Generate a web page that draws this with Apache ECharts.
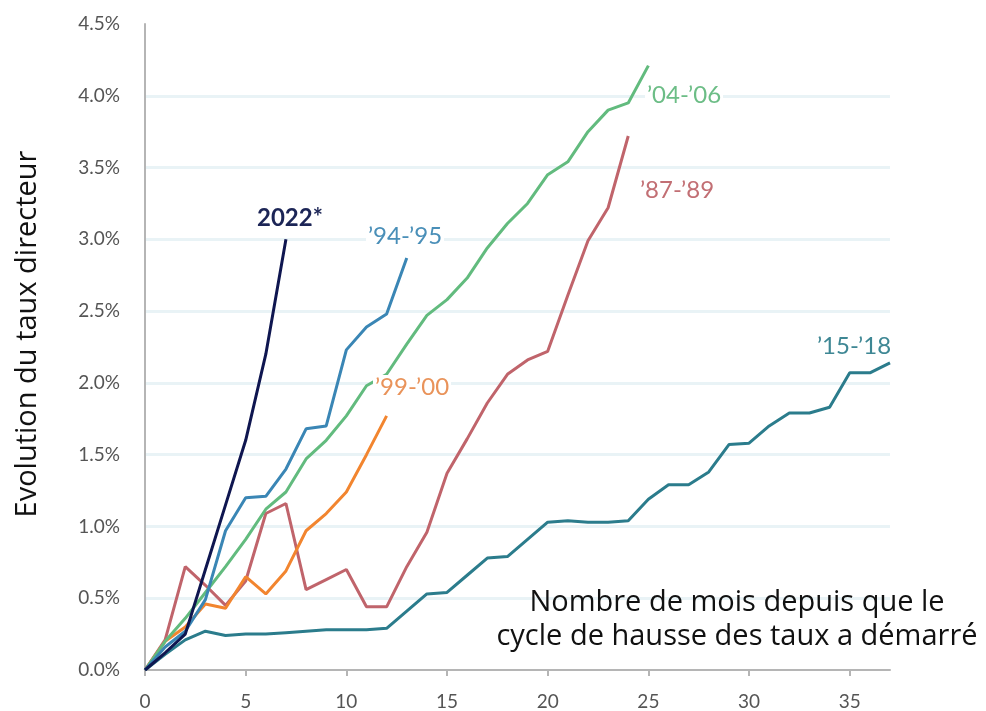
<!DOCTYPE html>
<html>
<head>
<meta charset="utf-8">
<style>
  html, body { margin: 0; padding: 0; background: #fff; overflow: hidden; }
  #chart { width: 986px; height: 730px; }
</style>
<script src="https://cdn.jsdelivr.net/npm/echarts@6/dist/echarts.min.js"></script>
</head>
<body>
<div id="chart"></div>
<script>
// mois depuis le début du cycle
const months = Array.from({ length: 38 }, (_, i) => i);

// hausse cumulée du taux directeur (%)
const cycle2022 = [0, 0.12, 0.25, 0.70, 1.15, 1.60, 2.20, 3.00];
const cycle9495 = [0, 0.16, 0.27, 0.49, 0.97, 1.20, 1.21, 1.40, 1.68, 1.70, 2.23, 2.39, 2.48, 2.87];
const cycle0406 = [0, 0.20, 0.36, 0.54, 0.72, 0.91, 1.12, 1.24, 1.47, 1.60, 1.77, 1.98, 2.06, 2.27, 2.47, 2.58, 2.73,
  2.94, 3.11, 3.25, 3.45, 3.54, 3.75, 3.90, 3.95, 4.21];
const cycle8789 = [0, 0.21, 0.72, 0.59, 0.45, 0.62, 1.09, 1.16, 0.56, 0.63, 0.70, 0.44, 0.44, 0.72, 0.96, 1.37, 1.61,
  1.86, 2.06, 2.16, 2.22, 2.61, 2.99, 3.22, 3.72];
const cycle9900 = [0, 0.20, 0.30, 0.46, 0.43, 0.65, 0.53, 0.69, 0.97, 1.09, 1.24, 1.50, 1.77];
const cycle1518 = [0, 0.11, 0.21, 0.27, 0.24, 0.25, 0.25, 0.26, 0.27, 0.28, 0.28, 0.28, 0.29, 0.41, 0.53, 0.54, 0.66,
  0.78, 0.79, 0.91, 1.03, 1.04, 1.03, 1.03, 1.04, 1.19, 1.29, 1.29, 1.38, 1.57, 1.58, 1.70, 1.79, 1.79, 1.83, 2.07,
  2.07, 2.14];

const yTicks = [0, 0.5, 1, 1.5, 2, 2.5, 3, 3.5, 4, 4.5];

// le conteneur dépasse un peu la fenêtre : les libellés de l'axe X sont coupés en bas comme sur l'original
const chart = echarts.init(document.getElementById('chart'));

function pairs(values) {
  return values.map((v, i) => [months[i], v]);
}

function line(name, values, color) {
  return {
    name: name,
    type: 'line',
    data: pairs(values),
    symbol: 'none',
    lineStyle: { color: color, width: 3 },
    itemStyle: { color: color },
    z: 3
  };
}

// étiquettes des cycles (fond blanc, comme sur l'original)
function tag(text, x, y, color, bold) {
  return {
    type: 'text',
    x: x,
    y: y,
    z: 100,
    style: {
      text: text,
      fill: color,
      align: 'left',
      verticalAlign: 'middle',
      backgroundColor: '#fff',
      padding: [0, 2],
      font: (bold ? 'bold 24px ' : '24px ') + 'Lato, "DejaVu Sans", sans-serif'
    }
  };
}

const tickText = {
  color: '#555',
  fontSize: 19,
  fontFamily: 'Lato, sans-serif'
};

chart.setOption({
  animation: false,
  backgroundColor: '#fff',
  grid: { left: 145, right: 96, top: 24, bottom: 60 },
  xAxis: {
    type: 'value',
    min: 0,
    max: 37,
    interval: 5,
    axisLine: { lineStyle: { color: '#b5b5b5', width: 2 } },
    axisTick: { show: true, length: 6, lineStyle: { color: '#b5b5b5', width: 2 } },
    axisLabel: Object.assign({ margin: 22, showMaxLabel: false }, tickText),
    splitLine: { show: false }
  },
  yAxis: {
    type: 'value',
    min: 0,
    max: 4.5,
    interval: 0.5,
    axisLine: { show: true, lineStyle: { color: '#b5b5b5', width: 2 } },
    axisTick: { show: false },
    axisLabel: Object.assign({
      margin: 25,
      formatter: v => yTicks.includes(v) ? v.toFixed(1) + '%' : ''
    }, tickText),
    splitLine: {
      lineStyle: {
        color: ['rgba(0,0,0,0)', '#e9f3f6', '#e9f3f6', '#e9f3f6', '#e9f3f6', '#e9f3f6', '#e9f3f6', '#e9f3f6', '#e9f3f6', 'rgba(0,0,0,0)'],
        width: 3
      }
    }
  },
  series: [
    line('15-18', cycle1518, '#2b7c8c'),
    line('87-89', cycle8789, '#c0646b'),
    line('99-00', cycle9900, '#f2852f'),
    line('04-06', cycle0406, '#62bb7e'),
    line('94-95', cycle9495, '#3a86b5'),
    line('2022', cycle2022, '#0f1650')
  ],
  graphic: [
    tag('2022*', 255, 218, '#1c2556', true),
    tag('\u201994-\u201995', 366, 236, '#4a8fb8', false),
    tag('\u201904-\u201906', 645, 95, '#6cbd86', false),
    tag('\u201987-\u201989', 638, 190, '#c26f74', false),
    tag('\u201999-\u201900', 373, 387, '#e9935a', false),
    tag('\u201915-\u201918', 815, 346, '#3e8794', false),
    {
      type: 'text',
      x: 28,
      y: 334,
      rotation: Math.PI / 2,
      style: {
        text: 'Evolution du taux directeur',
        fill: '#111',
        align: 'center',
        verticalAlign: 'middle',
        font: '29px "Open Sans", sans-serif'
      }
    },
    {
      type: 'text',
      x: 737,
      y: 620,
      z: 100,
      style: {
        text: 'Nombre de mois depuis que le\ncycle de hausse des taux a démarré',
        fill: '#111',
        align: 'center',
        verticalAlign: 'middle',
        font: '29px "Open Sans", sans-serif',
        lineHeight: 34
      }
    }
  ]
});
</script>
</body>
</html>
